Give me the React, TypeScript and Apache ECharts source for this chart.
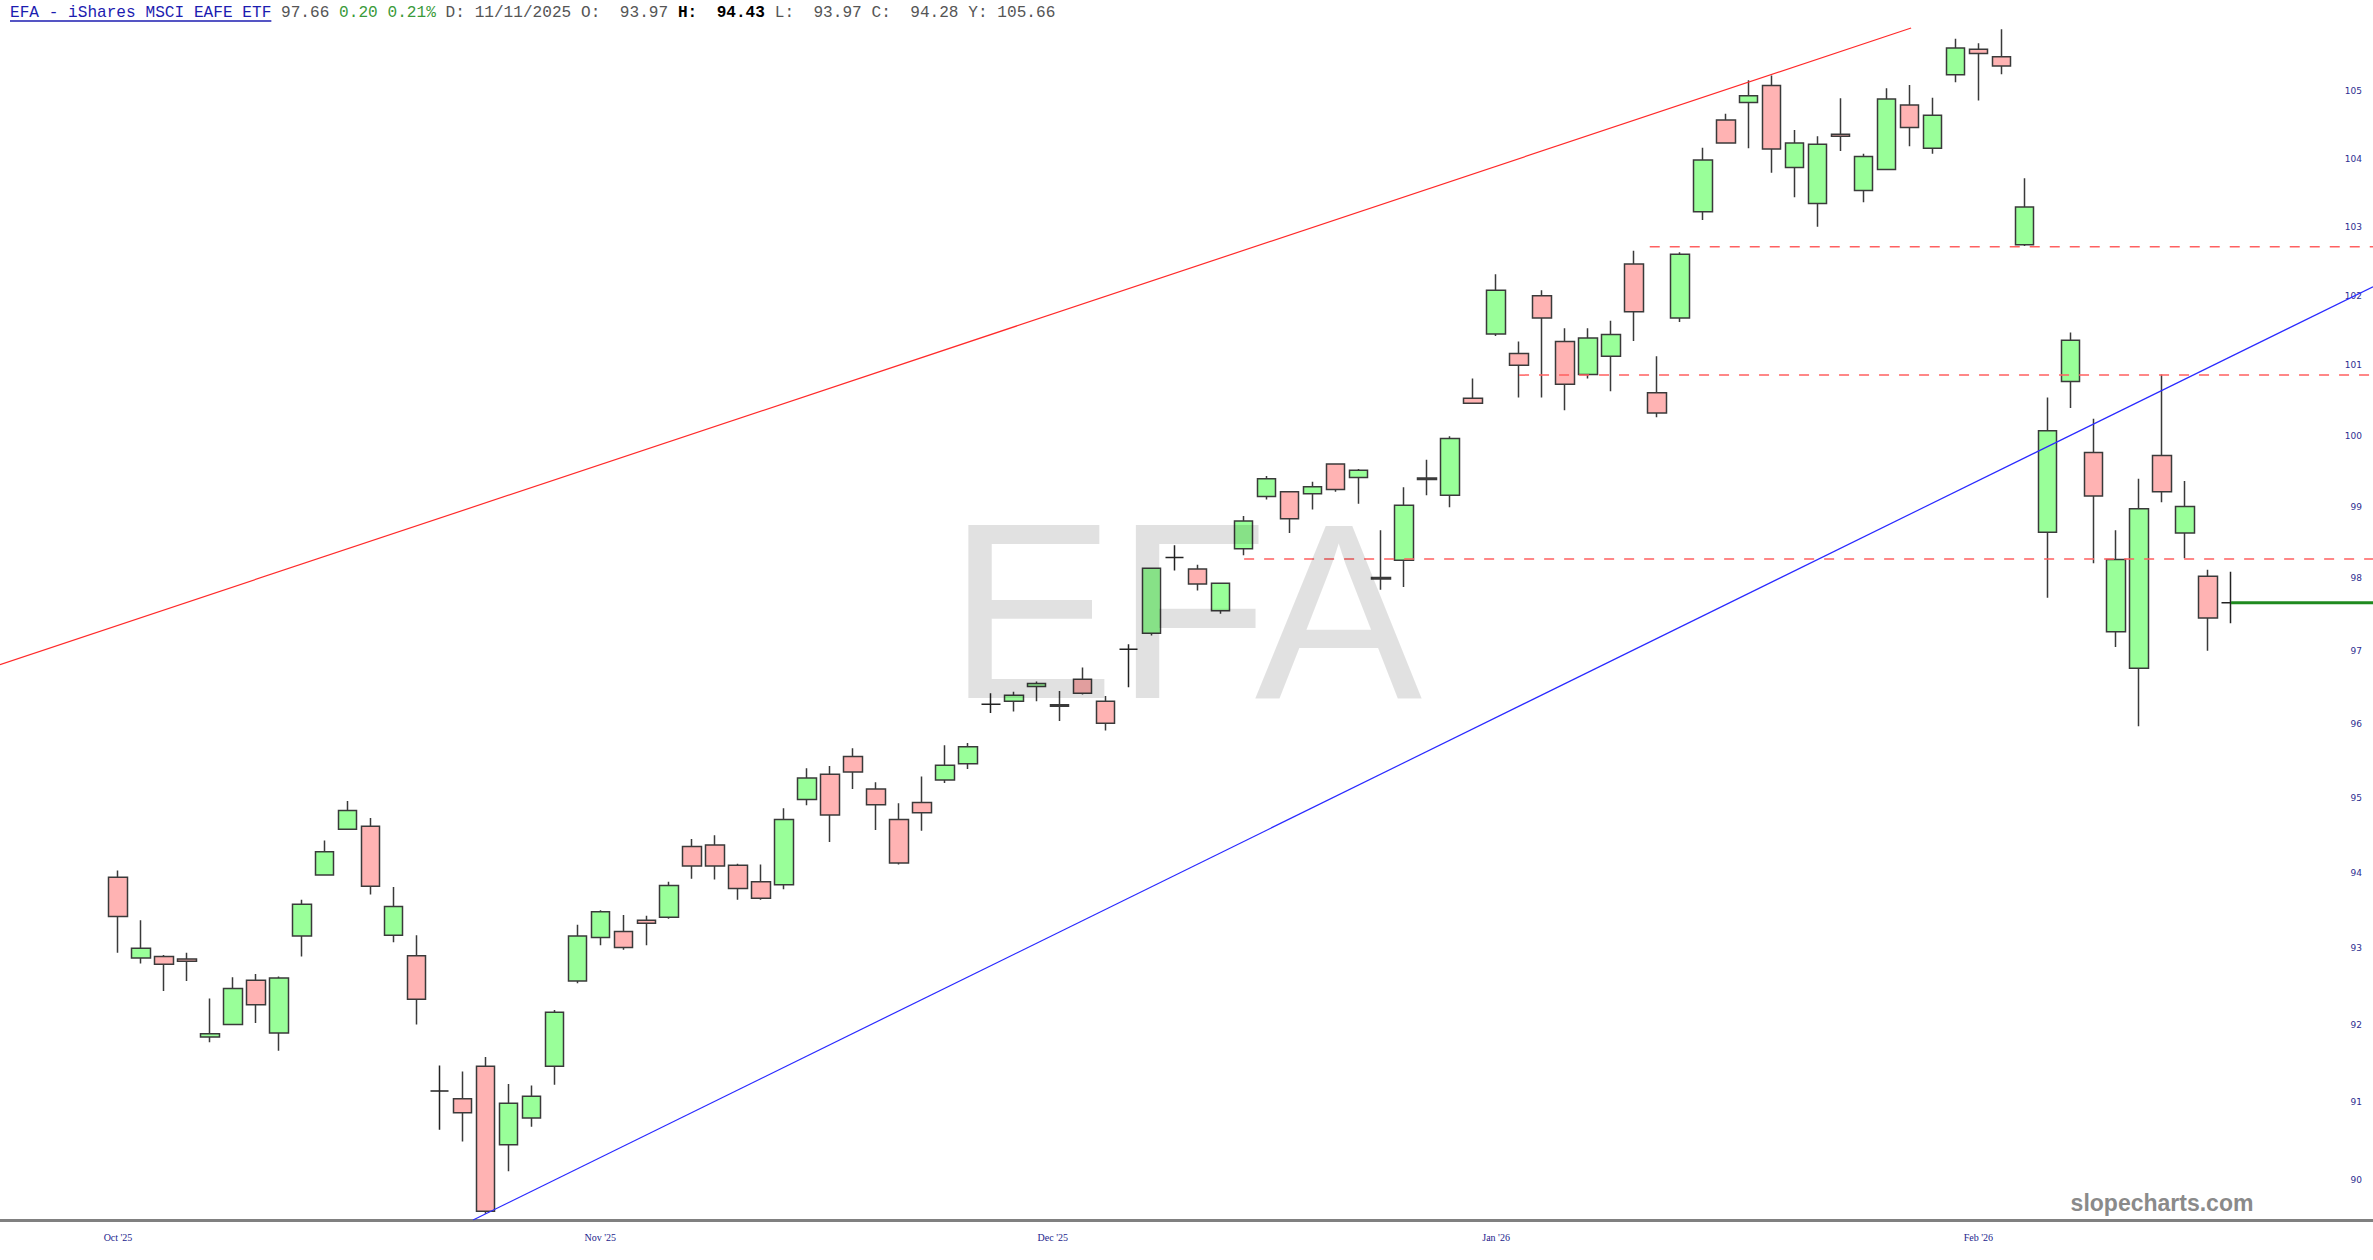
import React, { useEffect, useRef } from "react";
import * as echarts from "echarts";

// ---- data ----
const opens = [
  93.94, 92.87, 92.89, 92.86, 91.84, 92.0, 92.58, 91.89, 93.16, 93.97,
  94.58, 94.62, 93.17, 92.9, 91.14, 91.04, 91.46, 90.45, 90.79, 91.46,
  92.57, 93.14, 93.22, 93.37, 93.41, 94.35, 94.37, 94.1, 93.88, 93.84,
  94.98, 95.32, 95.56, 95.12, 94.71, 94.94, 95.24, 95.46, 96.27, 96.31,
  96.51, 96.24, 96.61, 96.31, 97.02, 97.24, 98.29, 98.13, 97.55, 98.41,
  99.14, 99.21, 99.18, 99.6, 99.41, 97.99, 98.25, 99.38, 99.16, 100.53,
  101.45, 101.17, 102.0, 101.34, 100.87, 101.13, 102.46, 100.61, 101.68, 103.22,
  104.57, 104.83, 105.08, 103.87, 103.34, 104.36, 103.53, 103.84, 104.79, 104.15,
  105.24, 105.62, 105.51, 102.74, 98.64, 100.77, 99.76, 97.26, 96.76, 99.72,
  98.63, 98.03, 97.66,
];
const closes = [
  93.42, 93.0, 92.79, 92.83, 91.88, 92.47, 92.26, 92.61, 93.58, 94.28,
  94.83, 93.82, 93.55, 92.33, 91.14, 90.86, 89.6, 90.98, 91.07, 92.16,
  93.16, 93.48, 93.01, 93.33, 93.83, 94.09, 94.09, 93.79, 93.66, 94.71,
  95.27, 94.77, 95.35, 94.91, 94.13, 94.8, 95.44, 95.69, 96.27, 96.39,
  96.55, 96.26, 96.42, 96.01, 97.02, 98.14, 98.29, 97.92, 97.93, 98.8,
  99.39, 98.83, 99.28, 99.24, 99.51, 98.01, 99.02, 99.4, 99.96, 100.46,
  102.08, 101.0, 101.68, 100.73, 101.39, 101.44, 101.77, 100.32, 102.6, 103.98,
  104.23, 104.93, 104.14, 104.23, 104.21, 104.33, 104.03, 104.88, 104.46, 104.64,
  105.64, 105.56, 105.37, 103.29, 100.07, 101.36, 99.15, 98.26, 98.97, 99.21,
  99.0, 97.45, 97.66,
];
const lows = [
  92.94, 92.8, 92.44, 92.57, 91.77, 91.99, 92.02, 91.66, 92.89, 93.97,
  94.57, 93.71, 93.08, 92.0, 90.64, 90.49, 89.57, 90.11, 90.68, 91.22,
  92.54, 93.04, 92.98, 93.04, 93.39, 93.92, 93.91, 93.64, 93.64, 93.78,
  94.9, 94.41, 95.12, 94.57, 94.11, 94.56, 95.2, 95.39, 96.15, 96.17,
  96.31, 96.04, 96.4, 95.91, 96.5, 97.21, 98.11, 97.83, 97.51, 98.32,
  99.1, 98.63, 98.96, 99.21, 99.04, 97.84, 97.88, 99.16, 98.99, 100.45,
  101.42, 100.54, 100.54, 100.36, 100.81, 100.63, 101.35, 100.26, 101.62, 103.1,
  104.22, 104.15, 103.79, 103.43, 103.0, 104.11, 103.36, 103.83, 104.18, 104.07,
  105.13, 104.86, 105.25, 102.72, 97.73, 100.39, 98.21, 97.05, 95.97, 99.06,
  98.28, 97.0, 97.38,
];
const highs = [
  94.03, 93.37, 92.91, 92.94, 92.34, 92.62, 92.66, 92.63, 93.64, 94.43,
  94.96, 94.73, 93.81, 93.17, 91.47, 91.39, 91.58, 91.23, 91.21, 92.19,
  93.31, 93.5, 93.44, 93.43, 93.88, 94.45, 94.5, 94.12, 94.11, 94.86,
  95.4, 95.43, 95.67, 95.21, 94.93, 95.29, 95.71, 95.74, 96.42, 96.44,
  96.58, 96.45, 96.77, 96.38, 97.09, 98.15, 98.46, 98.19, 97.94, 98.87,
  99.43, 99.22, 99.35, 99.61, 99.53, 98.67, 99.27, 99.66, 99.99, 100.81,
  102.31, 101.34, 102.08, 101.53, 101.53, 101.64, 102.65, 101.13, 102.63, 104.16,
  104.66, 105.16, 105.23, 104.42, 104.33, 104.89, 104.07, 105.04, 105.09, 104.9,
  105.78, 105.71, 105.92, 103.71, 100.54, 101.47, 100.24, 98.67, 99.39, 100.87,
  99.36, 98.12, 98.09,
];

const monthLabels = ["Oct '25", "Nov '25", "Dec '25", "Jan '26", "Feb '26"];
const monthLabelPos = [0, 21, 40.7, 60, 81];
const priceTicks = [90, 91, 92, 93, 94, 95, 96, 97, 98, 99, 100, 101, 102, 103, 104, 105];

// trend lines: [bar index, price]
const redTrend = [[-5.14, 96.81], [78.07, 105.94]];
const blueTrend = [[15.46, 89.49], [98.18, 102.13]];
const levelStarts = [66.69, 61.0, 49.03];
const levelPrices = [102.71, 100.86, 98.27];
const lastIndex = 92;
const lastPrice = 97.66;

const headerSegments = [
  { text: "EFA - iShares MSCI EAFE ETF", color: "#1c1cb0", bold: false },
  { text: " 97.66 ", color: "#555555", bold: false },
  { text: "0.20 0.21%", color: "#3a9a3a", bold: false },
  { text: " D: 11/11/2025 O:  93.97 ", color: "#555555", bold: false },
  { text: "H:  94.43", color: "#000000", bold: true },
  { text: " L:  93.97 C:  94.28 Y: 105.66", color: "#555555", bold: false },
];

const X_MIN = -5.138;
const X_MAX = 98.18;
const Y_MIN = 89.49;
const Y_MAX = 106.06;

function buildHeader(): any[] {
  const els: any[] = [];
  const charW = 9.68;
  const x0 = 10;
  let col = 0;
  headerSegments.forEach((seg) => {
    const re = /\S+/g;
    let m: RegExpExecArray | null;
    while ((m = re.exec(seg.text)) !== null) {
      els.push({
        type: "text",
        x: x0 + (col + m.index) * charW,
        y: 13,
        silent: true,
        style: {
          text: m[0],
          fill: seg.color,
          font: (seg.bold ? "bold " : "") + '16.1px "Liberation Mono"',
          textAlign: "left",
          textVerticalAlign: "middle",
          verticalAlign: "middle",
        },
      });
    }
    col += seg.text.length;
  });
  els.push({
    type: "line",
    silent: true,
    shape: { x1: x0, y1: 21, x2: x0 + 27 * charW, y2: 21 },
    style: { stroke: "#1c1cb0", lineWidth: 1.5 },
  });
  return els;
}

export default function App() {
  const ref = useRef<HTMLDivElement>(null);

  useEffect(() => {
    document.body.style.margin = "0";
    if (!ref.current) return;
    const chart = echarts.init(ref.current, undefined, { renderer: "svg" });

    const candleData = opens.map((o, i) => [i, o, closes[i], lows[i], highs[i]]);

    const levelSeries = levelStarts.map((s, k) => ({
      type: "line",
      data: [
        [s, levelPrices[k]],
        [X_MAX, levelPrices[k]],
      ],
      symbol: "none",
      silent: true,
      lineStyle: { color: "#ff6060", width: 1.5, type: [10, 10] },
      z: 3,
    }));

    const option: any = {
      animation: false,
      backgroundColor: "#ffffff",
      grid: { left: 0, right: 0, top: 20, bottom: 40, containLabel: false },
      xAxis: {
        type: "value",
        min: X_MIN,
        max: X_MAX,
        splitLine: { show: false },
        axisTick: { show: false },
        axisLine: { show: true, onZero: false, lineStyle: { color: "#808080", width: 3 } },
        axisLabel: {
          customValues: monthLabelPos,
          formatter: (v: number) => {
            const k = monthLabelPos.findIndex((p) => Math.abs(p - v) < 1e-6);
            return k >= 0 ? monthLabels[k] : "";
          },
          color: "#1c1c8c",
          fontFamily: "Liberation Serif",
          fontSize: 10,
          margin: 12,
        },
      },
      yAxis: {
        type: "log",
        min: Y_MIN,
        max: Y_MAX,
        position: "right",
        splitLine: { show: false },
        axisLine: { show: false },
        axisTick: { show: false },
        axisLabel: {
          customValues: priceTicks,
          inside: true,
          margin: 11,
          color: "#2e2e90",
          fontFamily: "DejaVu Sans",
          fontSize: 9,
          formatter: (v: number) => String(Math.round(v)),
        },
      },
      series: [
        {
          type: "candlestick",
          data: candleData,
          barWidth: 19,
          silent: true,
          itemStyle: {
            color: "#99ff99",
            color0: "#ffb3b3",
            borderColor: "#3a3a3a",
            borderColor0: "#3a3a3a",
            borderColorDoji: "#222222",
            borderWidth: 1.5,
          },
          z: 2,
        },
        {
          type: "line",
          data: redTrend,
          symbol: "none",
          silent: true,
          lineStyle: { color: "#ff2a2a", width: 1.2 },
          z: 3,
        },
        {
          type: "line",
          data: blueTrend,
          symbol: "none",
          silent: true,
          lineStyle: { color: "#2a2aff", width: 1.2 },
          z: 3,
        },
        ...levelSeries,
        {
          type: "line",
          data: [
            [lastIndex, lastPrice],
            [X_MAX, lastPrice],
          ],
          symbol: "none",
          silent: true,
          lineStyle: { color: "#1f8a1f", width: 3 },
          z: 3,
        },
      ],
      graphic: [
        ...buildHeader(),
        {
          type: "text",
          x: 1185,
          y: 611,
          z: 100,
          silent: true,
          style: {
            text: "EFA",
            fill: "rgba(0,0,0,0.118)",
            font: '251px "Liberation Sans"',
            textAlign: "center",
            textVerticalAlign: "middle",
            verticalAlign: "middle",
          },
        },
        {
          type: "text",
          x: 2162,
          y: 1203,
          z: 50,
          silent: true,
          style: {
            text: "slopecharts.com",
            fill: "#8a8a8a",
            font: 'bold 23px "Liberation Sans"',
            textAlign: "center",
            textVerticalAlign: "middle",
            verticalAlign: "middle",
          },
        },
      ],
    };

    chart.setOption(option);
    return () => {
      chart.dispose();
    };
  }, []);

  return <div ref={ref} style={{ width: 2373, height: 1260 }} />;
}
